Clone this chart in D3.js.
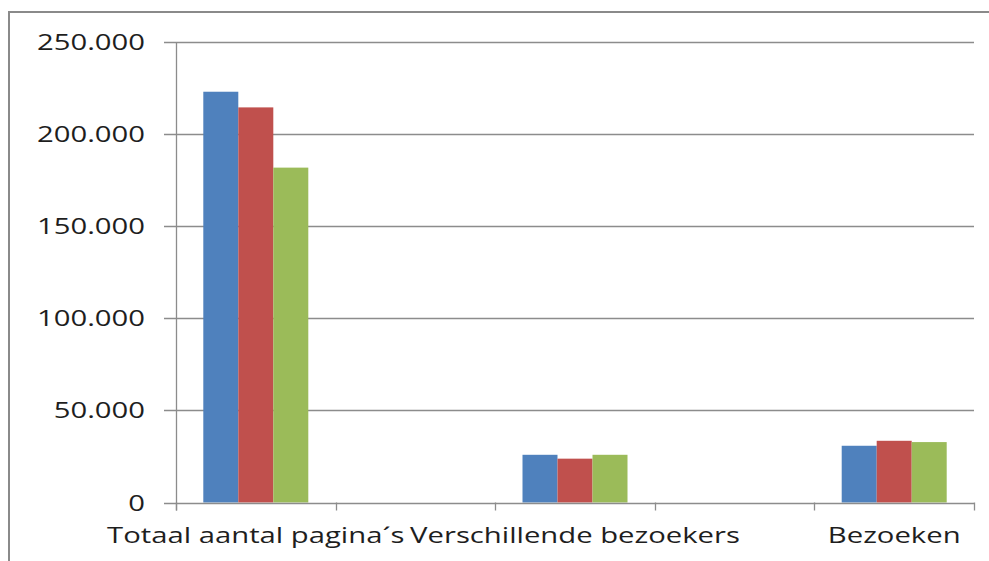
<!DOCTYPE html>
<html>
<head>
<meta charset="utf-8">
<title>Pagina's en bezoekers</title>
<script src="https://d3js.org/d3.v7.min.js"></script>
<style>
  body { margin: 0; background: #fff; }
  text { font-family: "Open Sans", sans-serif; fill: #1e1e1e; }
</style>
</head>
<body>
<svg id="chart"></svg>
<script>

// data
var categories = ["Totaal aantal pagina\u00b4s", "", "Verschillende bezoekers", "", "Bezoeken"];
var series = ["Reeks1", "Reeks2", "Reeks3"];
var reeks1 = [223000, null, 25900, null, 30800];
var reeks2 = [214500, null, 23800, null, 33500];
var reeks3 = [181800, null, 25900, null, 32800];
var yTicks = [0, 50000, 100000, 150000, 200000, 250000];

var colors = ["#4F81BD", "#C0504D", "#9BBB59"];
var values = [reeks1, reeks2, reeks3];

var W = 989, H = 561;
var plotLeft = 176, plotRight = 974, plotTop = 42, plotBottom = 502.5;
var sx = 1.33;   // text is drawn wide in the original

var svg = d3.select("#chart").attr("width", W).attr("height", H);

// outer frame, runs off the right and bottom of the picture
svg.append("rect")
    .attr("x", 9).attr("y", 12)
    .attr("width", 1200).attr("height", 800)
    .attr("fill", "none").attr("stroke", "#8a8a8a").attr("stroke-width", 2);

var y = d3.scaleLinear().domain([0, 250000]).range([plotBottom, plotTop]);

var x0 = d3.scaleBand()
    .domain(d3.range(categories.length))
    .range([plotLeft, plotRight])
    .padding(0);

var x1 = d3.scaleBand()
    .domain(series)
    .range([0, x0.bandwidth()])
    .paddingOuter(0.78).paddingInner(0);

var fmt = function(d) { return d3.format(",")(d).replace(/,/g, "."); };

// gridlines
svg.append("g").selectAll("line")
    .data(yTicks.slice(1))
  .enter().append("line")
    .attr("x1", plotLeft - 12).attr("x2", plotRight)
    .attr("y1", function(d) { return Math.round(y(d)) + 0.5; })
    .attr("y2", function(d) { return Math.round(y(d)) + 0.5; })
    .attr("stroke", "#8c8c8c").attr("stroke-width", 1.3);

// y tick labels
svg.append("g").selectAll("text")
    .data(yTicks)
  .enter().append("text")
    .attr("text-anchor", "end")
    .attr("font-size", "22px")
    .attr("transform", function(d) { return "translate(145," + (y(d) + 8) + ") scale(" + sx + ",1)"; })
    .text(function(d) { return d === 0 ? "0" : fmt(d); });

// bars
series.forEach(function(s, si) {
  svg.append("g").selectAll("rect")
      .data(values[si].map(function(v, i) { return {i: i, v: v}; }).filter(function(d) { return d.v != null; }))
    .enter().append("rect")
      .attr("x", function(d) { return x0(d.i) + x1(s); })
      .attr("width", x1.bandwidth())
      .attr("y", function(d) { return y(d.v); })
      .attr("height", function(d) { return y(0) - y(d.v); })
      .attr("fill", colors[si]);
});

// axis lines
svg.append("line")
    .attr("x1", plotLeft + 0.5).attr("x2", plotLeft + 0.5)
    .attr("y1", plotTop).attr("y2", plotBottom + 8)
    .attr("stroke", "#8c8c8c").attr("stroke-width", 1.3);
svg.append("line")
    .attr("x1", plotLeft - 12).attr("x2", plotRight)
    .attr("y1", Math.round(plotBottom) + 0.5).attr("y2", Math.round(plotBottom) + 0.5)
    .attr("stroke", "#8c8c8c").attr("stroke-width", 1.3);

// x ticks at category boundaries
var bounds = d3.range(categories.length + 1).map(function(i) { return plotLeft + i * x0.bandwidth(); });
svg.append("g").selectAll("line")
    .data(bounds)
  .enter().append("line")
    .attr("x1", function(d) { return Math.round(d) + 0.5; })
    .attr("x2", function(d) { return Math.round(d) + 0.5; })
    .attr("y1", plotBottom).attr("y2", plotBottom + 8)
    .attr("stroke", "#8c8c8c").attr("stroke-width", 1.3);

// category labels
svg.append("g").selectAll("text")
    .data(categories)
  .enter().append("text")
    .attr("text-anchor", "middle")
    .attr("font-size", "22px")
    .attr("transform", function(d, i) { return "translate(" + (x0(i) + x0.bandwidth() / 2) + ",543) scale(" + sx + ",1)"; })
    .text(function(d) { return d; });

</script>
</body>
</html>
